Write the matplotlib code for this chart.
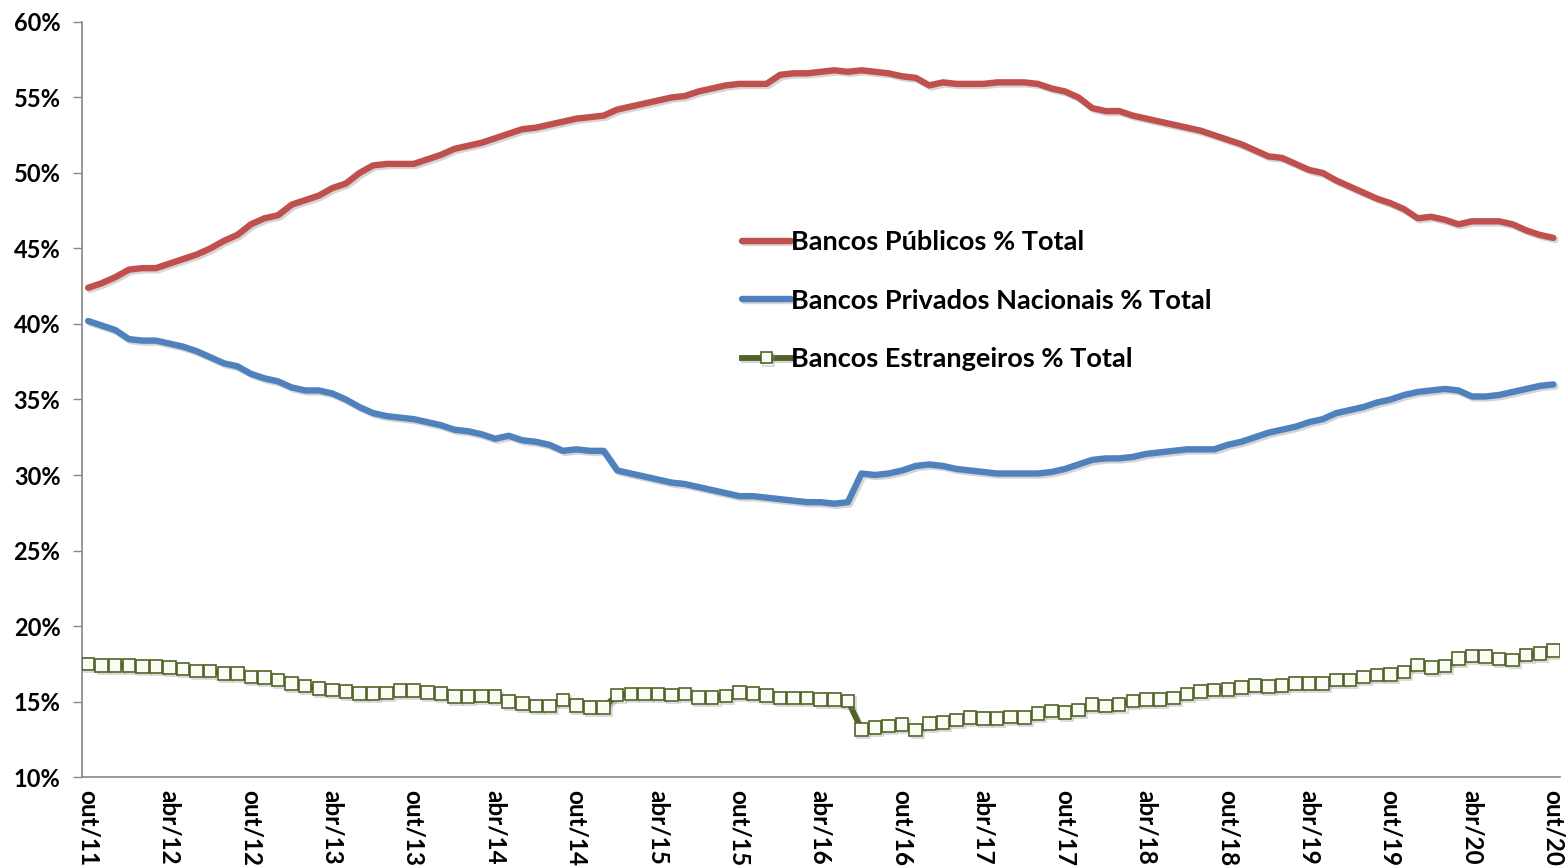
import matplotlib
matplotlib.use("Agg")
import matplotlib.pyplot as plt
import matplotlib.patheffects as pe
import numpy as np

# Monthly data, out/2011 .. out/2020 (109 points)
months_pt = ["jan", "fev", "mar", "abr", "mai", "jun", "jul", "ago", "set", "out", "nov", "dez"]
start_year, start_month = 2011, 10  # outubro 2011

publicos = [
    42.4, 42.7, 43.1, 43.6, 43.7, 43.7, 44.0, 44.3, 44.6, 45.0,
    45.5, 45.9, 46.6, 47.0, 47.2, 47.9, 48.2, 48.5, 49.0, 49.3,
    50.0, 50.5, 50.6, 50.6, 50.6, 50.9, 51.2, 51.6, 51.8, 52.0,
    52.3, 52.6, 52.9, 53.0, 53.2, 53.4, 53.6, 53.7, 53.8, 54.2,
    54.4, 54.6, 54.8, 55.0, 55.1, 55.4, 55.6, 55.8, 55.9, 55.9,
    55.9, 56.5, 56.6, 56.6, 56.7, 56.8, 56.7, 56.8, 56.7, 56.6,
    56.4, 56.3, 55.8, 56.0, 55.9, 55.9, 55.9, 56.0, 56.0, 56.0,
    55.9, 55.6, 55.4, 55.0, 54.3, 54.1, 54.1, 53.8, 53.6, 53.4,
    53.2, 53.0, 52.8, 52.5, 52.2, 51.9, 51.5, 51.1, 51.0, 50.6,
    50.2, 50.0, 49.5, 49.1, 48.7, 48.3, 48.0, 47.6, 47.0, 47.1,
    46.9, 46.6, 46.8, 46.8, 46.8, 46.6, 46.2, 45.9, 45.7,
]

privados = [
    40.2, 39.9, 39.6, 39.0, 38.9, 38.9, 38.7, 38.5, 38.2, 37.8,
    37.4, 37.2, 36.7, 36.4, 36.2, 35.8, 35.6, 35.6, 35.4, 35.0,
    34.5, 34.1, 33.9, 33.8, 33.7, 33.5, 33.3, 33.0, 32.9, 32.7,
    32.4, 32.6, 32.3, 32.2, 32.0, 31.6, 31.7, 31.6, 31.6, 30.3,
    30.1, 29.9, 29.7, 29.5, 29.4, 29.2, 29.0, 28.8, 28.6, 28.6,
    28.5, 28.4, 28.3, 28.2, 28.2, 28.1, 28.2, 30.1, 30.0, 30.1,
    30.3, 30.6, 30.7, 30.6, 30.4, 30.3, 30.2, 30.1, 30.1, 30.1,
    30.1, 30.2, 30.4, 30.7, 31.0, 31.1, 31.1, 31.2, 31.4, 31.5,
    31.6, 31.7, 31.7, 31.7, 32.0, 32.2, 32.5, 32.8, 33.0, 33.2,
    33.5, 33.7, 34.1, 34.3, 34.5, 34.8, 35.0, 35.3, 35.5, 35.6,
    35.7, 35.6, 35.2, 35.2, 35.3, 35.5, 35.7, 35.9, 36.0,
]

estrangeiros = [
    17.48, 17.39, 17.39, 17.39, 17.31, 17.31, 17.24, 17.15, 17.02, 17.02,
    16.87, 16.87, 16.64, 16.58, 16.42, 16.20, 16.03, 15.87, 15.76, 15.65,
    15.54, 15.54, 15.58, 15.72, 15.72, 15.61, 15.54, 15.32, 15.32, 15.38,
    15.32, 14.99, 14.88, 14.70, 14.72, 15.10, 14.75, 14.62, 14.62, 15.43,
    15.50, 15.50, 15.50, 15.43, 15.50, 15.28, 15.28, 15.36, 15.61, 15.54,
    15.40, 15.25, 15.25, 15.25, 15.14, 15.14, 15.05, 13.16, 13.29, 13.38,
    13.49, 13.11, 13.55, 13.62, 13.77, 13.95, 13.89, 13.89, 13.99, 13.95,
    14.22, 14.37, 14.28, 14.44, 14.81, 14.72, 14.81, 15.05, 15.14, 15.14,
    15.25, 15.50, 15.65, 15.76, 15.81, 15.92, 16.07, 15.98, 16.07, 16.20,
    16.20, 16.20, 16.42, 16.42, 16.64, 16.75, 16.80, 16.97, 17.42, 17.26,
    17.35, 17.86, 18.01, 17.97, 17.81, 17.75, 18.08, 18.17, 18.37,
]

series_names = ["Bancos Públicos % Total", "Bancos Privados Nacionais % Total",
                "Bancos Estrangeiros % Total"]

# category labels
labels = []
for i in range(len(publicos)):
    mm = (start_month - 1 + i) % 12
    yy = start_year + (start_month - 1 + i) // 12
    labels.append(f"{months_pt[mm]}/{yy % 100:02d}")

y_ticks = [10, 15, 20, 25, 30, 35, 40, 45, 50, 55, 60]

FONT = ["Lato", "DejaVu Sans"]
plt.rcParams["font.family"] = FONT

fig = plt.figure(figsize=(15.68, 8.68), dpi=100)
ax = fig.add_axes([0.0523, 0.1048, 0.9427, 0.8699])

x = np.arange(len(publicos))
shadow = [pe.SimpleLineShadow(offset=(1.5, -1.5), shadow_color="#888888", alpha=0.35), pe.Normal()]

ax.plot(x, publicos, color="#C0504D", lw=4.6, solid_capstyle="round",
        label=series_names[0], path_effects=shadow, zorder=3)
ax.plot(x, privados, color="#4F81BD", lw=4.6, solid_capstyle="round",
        label=series_names[1], path_effects=shadow, zorder=3)
ax.plot(x, estrangeiros, color="#4F6228", lw=4.2, marker="s", markersize=9,
        markerfacecolor="#FBFDF5", markeredgecolor="#4F6228", markeredgewidth=1.2,
        label=series_names[2], path_effects=shadow, zorder=3)

ax.set_xlim(-0.45, len(publicos) - 0.5)
ax.set_ylim(10, 60)

ax.set_yticks(y_ticks)
ax.set_yticklabels([f"{v}%" for v in y_ticks], fontsize=17, fontweight="bold")

xt = x[::6]
ax.set_xticks(xt)
ax.set_xticklabels([labels[i] for i in xt], rotation=-90, fontsize=17.5,
                   fontweight="bold", va="top", ha="center")
ax.tick_params(axis="x", length=0, pad=9)
ax.tick_params(axis="y", length=6.5, width=1, color="#868686", pad=9, direction="out")

for s in ["top", "right"]:
    ax.spines[s].set_visible(False)
for s in ["left", "bottom"]:
    ax.spines[s].set_color("#868686")
    ax.spines[s].set_linewidth(1.2)

leg = ax.legend(loc="upper left", bbox_to_anchor=(0.4466, 0.7245), frameon=False,
                prop={"family": FONT, "weight": "bold", "size": 19.5},
                handlelength=1.8, handletextpad=0.0, labelspacing=1.28,
                borderpad=0.0, borderaxespad=0.0, markerscale=0.9)

fig.savefig("out.png", dpi=100, facecolor="white")
